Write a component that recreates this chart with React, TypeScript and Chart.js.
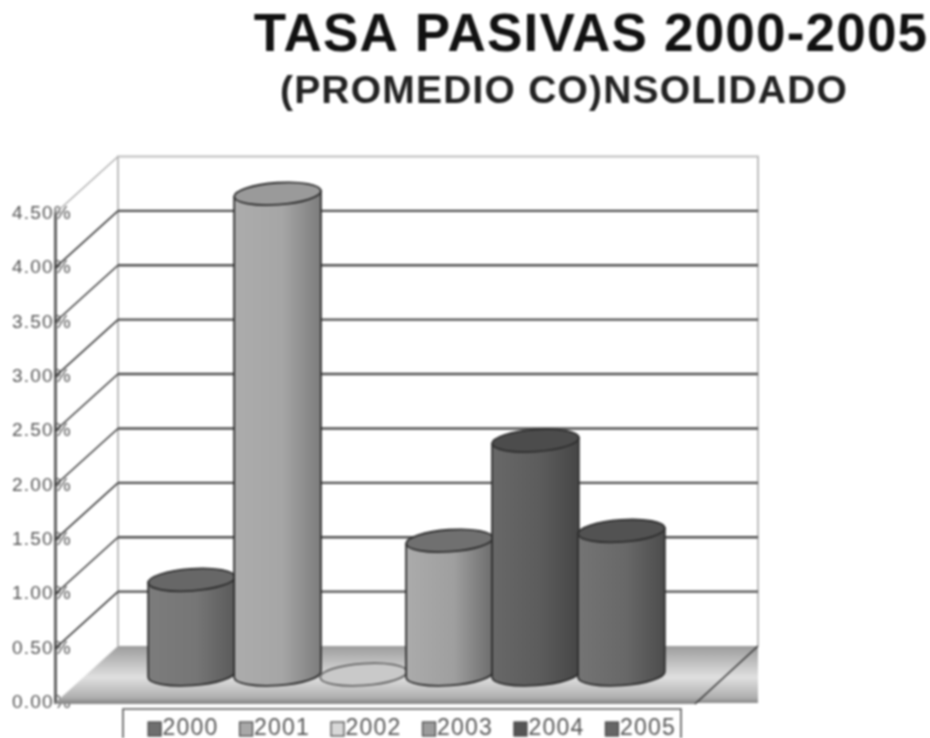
import React, { useEffect, useRef } from "react";
import { Chart, registerables } from "chart.js";

Chart.register(...registerables);

const categories = ["Promedio"];
const years = ["2000", "2001", "2002", "2003", "2004", "2005"];
const rates = [0.87, 4.42, 0, 1.23, 2.15, 1.32];
const swatchColors = ["#6f6f6f", "#a8a8a8", "#d8d8d8", "#9c9c9c", "#555555", "#666666"];
const sideLeft = ["#7c7c7c", "#acacac", "#d0d0d0", "#ababab", "#686868", "#747474"];
const sideMid = ["#767676", "#a6a6a6", "#d0d0d0", "#9f9f9f", "#5c5c5c", "#686868"];
const sideRight = ["#5a5a5a", "#7c7c7c", "#d0d0d0", "#6c6c6c", "#464646", "#4c4c4c"];
const topColors = ["#676767", "#9a9a9a", "#c9c9c9", "#707070", "#4c4c4c", "#525252"];
const titleText = "TASA PASIVAS 2000-2005";
const subtitleText = "(PROMEDIO CO)NSOLIDADO";

const DX = 63;
const DY = 57;
const TILT = -0.07;
const SPACING = "1.2px";

const cylinders = {
  id: "cylinders",
  beforeLayout(chart: any) {
    chart.ctx.letterSpacing = SPACING;
  },
  afterLayout(chart: any) {
    chart.boxes
      .filter((b: any) => b.options && b.options.text)
      .forEach((b: any) => {
        const center = b.options.text === titleText ? 591 : 564;
        const half = (b.right - b.left) / 2;
        b.left = center - half;
        b.right = center + half;
      });
    const lg = chart.legend;
    const half = (lg.right - lg.left) / 2;
    lg.left = 412 - half;
    lg.right = 412 + half;
    lg.top = 696.5;
  },
  beforeDraw(chart: any) {
    chart.ctx.letterSpacing = SPACING;
  },
  beforeDatasetsDraw(chart: any) {
    const { ctx, chartArea: a, scales } = chart;
    const y = scales.y;
    const zero = y.getPixelForValue(0);
    const topTick = y.getPixelForValue(y.max);
    ctx.save();
    ctx.letterSpacing = "0px";

    // back wall
    ctx.strokeStyle = "#bdbdbd";
    ctx.lineWidth = 2;
    ctx.beginPath();
    ctx.moveTo(a.left + DX, zero - DY);
    ctx.lineTo(a.left + DX, topTick - DY);
    ctx.lineTo(a.right + DX, topTick - DY);
    ctx.lineTo(a.right + DX, zero - DY);
    ctx.stroke();
    ctx.lineWidth = 1.2;
    ctx.strokeStyle = "#a8a8a8";
    ctx.beginPath();
    ctx.moveTo(a.left, topTick);
    ctx.lineTo(a.left + DX, topTick - DY);
    ctx.stroke();

    // floor
    const g = ctx.createLinearGradient(0, zero - DY, 0, zero);
    g.addColorStop(0, "#9c9c9c");
    g.addColorStop(0.55, "#e0e0e0");
    g.addColorStop(0.9, "#b0b0b0");
    g.addColorStop(1, "#8a8a8a");
    ctx.fillStyle = g;
    ctx.beginPath();
    ctx.moveTo(a.left, zero);
    ctx.lineTo(a.left + DX, zero - DY);
    ctx.lineTo(a.right + DX, zero - DY);
    ctx.lineTo(a.right + DX, zero);
    ctx.closePath();
    ctx.fill();
    ctx.strokeStyle = "#8a8a8a";
    ctx.lineWidth = 2;
    ctx.beginPath();
    ctx.moveTo(a.left, zero);
    ctx.lineTo(a.right, zero);
    ctx.stroke();
    ctx.strokeStyle = "#333333";
    ctx.lineWidth = 1.5;
    ctx.beginPath();
    ctx.moveTo(a.right, zero + 1);
    ctx.lineTo(a.right + DX, zero - DY);
    ctx.stroke();

    // grid lines on the wall and their diagonals
    y.ticks.forEach((t: any) => {
      const py = y.getPixelForValue(t.value);
      if (t.value > 0 && t.value < y.max) {
        ctx.strokeStyle = "#505050";
        ctx.lineWidth = 2.4;
        ctx.beginPath();
        ctx.moveTo(a.left + DX, py - DY);
        ctx.lineTo(a.right + DX, py - DY);
        ctx.stroke();
        ctx.strokeStyle = "#333333";
        ctx.lineWidth = 1.5;
        ctx.beginPath();
        ctx.moveTo(a.left, py);
        ctx.lineTo(a.left + DX, py - DY);
        ctx.stroke();
      }
    });

    // cylinders, from the bar elements of the chart
    chart.data.datasets.forEach((_: any, i: number) => {
      const el = chart.getDatasetMeta(i).data[0];
      const cx = el.x + DX / 2;
      const topY = el.y - DY / 2;
      const baseY = el.base - DY / 2;
      const rx = el.width / 2 + 0.5;
      const ry = 11;
      const lx = rx * Math.cos(TILT);
      const ly = rx * Math.sin(TILT);
      ctx.strokeStyle = "#2e2e2e";
      ctx.lineWidth = 1.8;
      if (rates[i] > 0) {
        const sg = ctx.createLinearGradient(cx - rx, 0, cx + rx, 0);
        sg.addColorStop(0, sideLeft[i]);
        sg.addColorStop(0.55, sideMid[i]);
        sg.addColorStop(1, sideRight[i]);
        ctx.fillStyle = sg;
        ctx.beginPath();
        ctx.moveTo(cx - lx, topY - ly);
        ctx.lineTo(cx - lx, baseY - ly);
        ctx.ellipse(cx, baseY, rx, ry, TILT, Math.PI, 0, true);
        ctx.lineTo(cx + lx, topY + ly);
        ctx.closePath();
        ctx.fill();
        ctx.stroke();
      } else {
        ctx.strokeStyle = "#666666";
      }
      ctx.fillStyle = topColors[i];
      ctx.beginPath();
      ctx.ellipse(cx, topY, rx, ry, TILT, 0, Math.PI * 2);
      ctx.fill();
      ctx.stroke();
    });
    ctx.restore();
    return false;
  },
  afterDraw(chart: any) {
    const { ctx, legend } = chart;
    ctx.save();
    ctx.strokeStyle = "#555555";
    ctx.lineWidth = 1.6;
    ctx.beginPath();
    ctx.moveTo(123, 738);
    ctx.lineTo(123, 709);
    ctx.lineTo(681, 709);
    ctx.lineTo(681, 738);
    ctx.stroke();
    // legend swatches sit tight against their labels
    legend.legendHitBoxes.forEach((h: any, i: number) => {
      const cy = h.top + h.height / 2;
      ctx.fillStyle = swatchColors[i];
      ctx.strokeStyle = "#444444";
      ctx.lineWidth = 1.2;
      ctx.fillRect(h.left, cy - 7, 13, 14);
      ctx.strokeRect(h.left, cy - 7, 13, 14);
    });
    ctx.restore();
  },
};

export default function App() {
  const ref = useRef<HTMLCanvasElement>(null);
  useEffect(() => {
    const chart = new Chart(ref.current as HTMLCanvasElement, {
      type: "bar",
      data: {
        labels: categories,
        datasets: years.map((year, i) => ({
          label: year,
          data: [rates[i]],
          backgroundColor: swatchColors[i],
          borderColor: "#3a3a3a",
          borderWidth: 1,
          categoryPercentage: 0.806,
          barPercentage: 1,
        })),
      },
      options: {
        responsive: false,
        animation: false,
        layout: { padding: { bottom: 0, left: 0, right: 235, top: 0 } },
        scales: {
          x: { display: false },
          y: {
            min: 0,
            max: 4.5,
            z: 1,
            afterFit: (s: any) => {
              s.width = 55;
            },
            grid: { display: false, drawTicks: false },
            border: { display: true, color: "#666666", width: 3 },
            ticks: {
              stepSize: 0.5,
              mirror: true,
              padding: -43,
              color: "#555555",
              font: { family: "'Liberation Sans'", size: 19 },
              callback: (v: any) => Number(v).toFixed(2) + "%",
            },
          },
        },
        plugins: {
          tooltip: { enabled: false },
          title: {
            display: true,
            text: titleText,
            color: "#111111",
            font: { family: "'Liberation Sans'", size: 53, weight: "bold" },
            padding: { top: 5, bottom: 0 },
          },
          subtitle: {
            display: true,
            text: subtitleText,
            color: "#222222",
            font: { family: "'Liberation Sans'", size: 39, weight: "bold" },
            padding: { top: 0, bottom: 98.1 },
          },
          legend: {
            display: true,
            position: "bottom",
            maxHeight: 35,
            labels: {
              color: "#555555",
              font: { family: "'Liberation Sans'", size: 23 },
              boxWidth: 3,
              boxHeight: 15,
              padding: 21,
              generateLabels: (c: any) =>
                Chart.defaults.plugins.legend.labels
                  .generateLabels(c)
                  .map((l: any) => ({ ...l, fillStyle: "rgba(0,0,0,0)", strokeStyle: "rgba(0,0,0,0)", lineWidth: 0 })),
            },
          },
        },
      },
      plugins: [cylinders],
    } as any);
    return () => chart.destroy();
  }, []);
  return (
    <div style={{ position: "absolute", left: 0, top: 0, width: 930, height: 738, background: "#fff" }}>
      <canvas ref={ref} width={930} height={738} style={{ display: "block", filter: "blur(1px)" }} />
    </div>
  );
}
